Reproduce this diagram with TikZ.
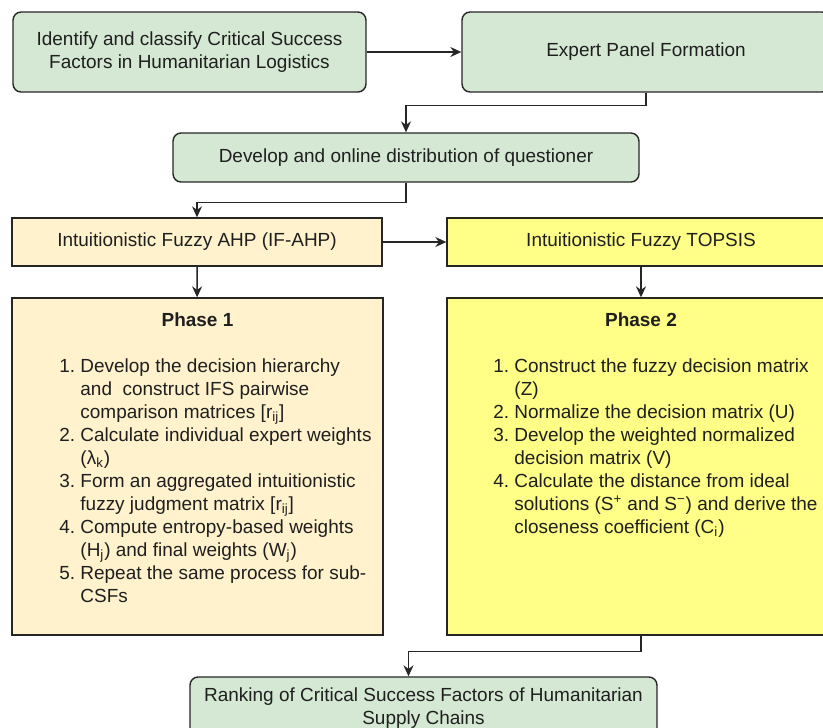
\documentclass[tikz,border=0pt]{standalone}
\usepackage{fontspec}
\setmainfont{Liberation Sans}
\usepackage{tikz}
\usetikzlibrary{positioning, arrows.meta}

\begin{document}
\begin{tikzpicture}[x=0.02cm, y=-0.02cm,
    font=\fontsize{10.8}{13.1}\selectfont, text=black!88,
    greenbox/.style={draw=black!85, line width=0.8pt, fill={rgb,255:red,213;green,232;blue,212}, rounded corners=0.16cm, inner sep=0pt, align=center},
    orangebox/.style={draw=black!85, line width=0.8pt, fill={rgb,255:red,255;green,242;blue,204}, inner sep=0pt, align=center},
    yellowbox/.style={draw=black!85, line width=0.8pt, fill={rgb,255:red,255;green,255;blue,136}, inner sep=0pt, align=center},
    flow/.style={draw=black!85, line width=0.8pt, -{Stealth[length=0.22cm, width=0.2cm]}}]
            \useasboundingbox (0,0) rectangle (823,728);
            \clip (0,0) rectangle (823,728);

            \node[greenbox, minimum width=7.06cm, minimum height=1.6cm] (identify) at (189.5, 52) {Identify and classify Critical Success\\Factors in Humanitarian Logistics};
            \node[greenbox, minimum width=7.36cm, minimum height=1.6cm] (panel) at (646, 52) {Expert Panel Formation};
            \node[greenbox, minimum width=9.32cm, minimum height=0.98cm] (survey) at (406, 157.5) {Develop and online distribution of questioner};
            \node[orangebox, minimum width=7.4cm, minimum height=0.96cm] (ahp) at (197, 242) {Intuitionistic Fuzzy AHP (IF-AHP)};
            \node[yellowbox, minimum width=7.76cm, minimum height=0.96cm] (topsis) at (641, 242) {Intuitionistic Fuzzy TOPSIS};
            \node[orangebox, minimum width=7.42cm, minimum height=6.74cm] (phase1) at (197.5, 466.5) {};
            \node[yellowbox, minimum width=7.76cm, minimum height=6.74cm] (phase2) at (641, 466.5) {};
            \node[greenbox, minimum width=9.34cm, minimum height=1.26cm] (ranking) at (423.5, 708.5) {Ranking of Critical Success Factors of Humanitarian\\Supply Chains};

            % phase contents
            \node[font=\fontsize{10.8}{13.1}\selectfont\bfseries] (title1) at (197.5, 320) {Phase 1};
            \node[anchor=north west, inner sep=0pt, align=left] (steps1) at (59, 356) {%
                \begin{tabular}{@{}r@{\ }l@{}}
                1. & Develop the decision hierarchy\\
                   & and\ \ construct IFS pairwise\\
                   & comparison matrices [r\textsubscript{ij}]\\
                2. & Calculate individual expert weights\\
                   & (λ\textsubscript{k})\\
                3. & Form an aggregated intuitionistic\\
                   & fuzzy judgment matrix [r\textsubscript{ij}]\\
                4. & Compute entropy-based weights\\
                   & (H\textsubscript{j}) and final weights (W\textsubscript{j})\\
                5. & Repeat the same process for sub-\\
                   & CSFs
                \end{tabular}};
            \node[font=\fontsize{10.8}{13.1}\selectfont\bfseries] (title2) at (641, 320) {Phase 2};
            \node[anchor=north west, inner sep=0pt, align=left] (steps2) at (493, 356) {%
                \begin{tabular}{@{}r@{\ }l@{}}
                1. & Construct the fuzzy decision matrix\\
                   & (Z)\\
                2. & Normalize the decision matrix (U)\\
                3. & Develop the weighted normalized\\
                   & decision matrix (V)\\
                4. & Calculate the distance from ideal\\
                   & solutions (S\textsuperscript{+} and S\textsuperscript{−}) and derive the\\
                   & closeness coefficient (C\textsubscript{i})
                \end{tabular}};

            \draw[flow] (identify) -- (panel);
            \draw[flow] (panel.south) -- ++(0, 13) -| (survey.north);
            \draw[flow] (survey.south) -- ++(0, 20) -| (ahp.north);
            \draw[flow] (ahp) -- (topsis);
            \draw[flow] (ahp) -- (phase1);
            \draw[flow] (topsis) -- (phase2);
            \draw[flow] (phase2.south) -- ++(0, 16) -| ([xshift=-0.3cm]ranking.north);
        \end{tikzpicture}
\end{document}
